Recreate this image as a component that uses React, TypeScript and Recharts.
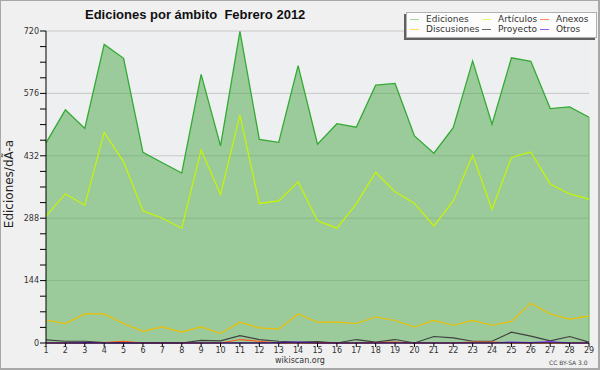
import { ComposedChart, Area, Line, XAxis, YAxis, CartesianGrid, ReferenceLine } from 'recharts';

const days = [1, 2, 3, 4, 5, 6, 7, 8, 9, 10, 11, 12, 13, 14, 15, 16, 17, 18, 19, 20, 21, 22, 23, 24, 25, 26, 27, 28, 29];
const ediciones = [462, 538, 495, 689, 657, 440, 416, 392, 620, 455, 719, 470, 463, 640, 459, 506, 498, 595, 599, 478, 438, 497, 651, 505, 658, 650, 541, 545, 521];
const articulos = [293, 344, 318, 486, 418, 305, 288, 265, 445, 343, 526, 322, 328, 372, 282, 265, 321, 394, 349, 322, 270, 328, 434, 308, 428, 441, 367, 344, 332];
const discusiones = [53, 45, 67, 67, 45, 27, 37, 25, 37, 22, 48, 35, 32, 67, 48, 48, 45, 60, 52, 37, 52, 41, 52, 41, 50, 92, 67, 55, 62];
const proyecto = [7, 4, 4, 1, 0, 0, 1, 0, 6, 5, 17, 8, 4, 2, 3, 0, 8, 2, 8, 0, 15, 12, 4, 4, 25, 16, 5, 15, 2];
const anexos = [0, 0, 0, 1, 4, 0, 0, 0, 0, 0, 8, 4, 0, 0, 1, 0, 0, 1, 2, 0, 0, 0, 2, 2, 0, 0, 0, 0, 0];
const otros = [0, 0, 1, 0, 0, 0, 0, 0, 0, 0, 0, 0, 1, 2, 0, 0, 0, 0, 0, 0, 0, 0, 0, 0, 2, 1, 3, 0, 0];

const yTicks = [0, 36, 72, 108, 144, 180, 216, 252, 288, 324, 360, 396, 432, 468, 504, 540, 576, 612, 648, 684, 720];
const yLabels = [0, 144, 288, 432, 576, 720];

const legendNames = ['Ediciones', 'Artículos', 'Anexos', 'Discusiones', 'Proyecto', 'Otros'];
const legendColors = ['#99dd99', '#ddff66', '#ff8855', '#ffdd55', '#666666', '#9955ee'];

const data = days.map((d, i) => ({
  day: d,
  ediciones: ediciones[i],
  articulos: articulos[i],
  discusiones: discusiones[i],
  proyecto: proyecto[i],
  anexos: anexos[i],
  otros: otros[i],
}));

const font = 'DejaVu Sans, sans-serif';

function LegendBox() {
  const colX = [0, 72, 130];
  return (
    <div
      style={{
        position: 'absolute',
        left: 405,
        top: 11,
        width: 189,
        height: 24,
        background: '#fcfcfc',
        border: '1px solid #b0b0b0',
        boxShadow: '-2px 2px 0 #606060',
        fontFamily: font,
        fontSize: 9,
        color: '#333',
      }}
    >
      {legendNames.map((name, i) => {
        const col = i % 3;
        const row = Math.floor(i / 3);
        return (
          <div
            key={name}
            style={{
              position: 'absolute',
              left: colX[col] + 3,
              top: row * 10 + 1,
              height: 11,
              lineHeight: '11px',
              display: 'flex',
              alignItems: 'center',
              whiteSpace: 'nowrap',
            }}
          >
            <span style={{ display: 'inline-block', width: 9, height: 1, background: legendColors[i], marginRight: 7 }} />
            {name}
          </div>
        );
      })}
    </div>
  );
}

export default function App() {
  return (
    <div
      style={{
        position: 'absolute',
        left: 0,
        top: 0,
        width: 600,
        height: 370,
        background: '#f0f0f0',
        boxSizing: 'border-box',
        border: '1px solid #a8a8a8',
        borderRightWidth: 2,
        borderBottomWidth: 2,
        overflow: 'hidden',
      }}
    >
      <div style={{ position: 'absolute', left: -1, top: -1 }}>
        <ComposedChart width={600} height={370} data={data} margin={{ top: 31, right: 11, bottom: 0, left: 0 }}>
          <CartesianGrid fill="#eeeff1" stroke="#c8c8c8" vertical={false} horizontalValues={yLabels} />
          <XAxis
            type="number"
            dataKey="day"
            domain={[1, 29]}
            ticks={days}
            interval={0}
            height={27}
            tickSize={4}
            tickMargin={0}
            axisLine={{ stroke: '#000' }}
            tickLine={{ stroke: '#000' }}
            tick={{ fontSize: 8, fill: '#333', fontFamily: font }}
          />
          <YAxis
            domain={[0, 720]}
            ticks={yTicks}
            interval={0}
            width={46}
            tickSize={6}
            tickMargin={1}
            tickFormatter={(v: number) => (v % 144 === 0 ? String(v) : '')}
            axisLine={{ stroke: '#000' }}
            tickLine={{ stroke: '#000' }}
            tick={{ fontSize: 8, fill: '#333', fontFamily: font }}
          />
          <Area
            type="linear"
            dataKey="ediciones"
            stroke="#33aa33"
            strokeWidth={1.3}
            fill="#48a745"
            fillOpacity={0.5}
            isAnimationActive={false}
            dot={false}
            activeDot={false}
          />
          <ReferenceLine
            segment={[
              { x: days[days.length - 1], y: 0 },
              { x: days[days.length - 1], y: ediciones[ediciones.length - 1] },
            ]}
            stroke="#5ab45a"
            strokeWidth={1}
          />
          <Line type="linear" dataKey="articulos" stroke="#c8f500" strokeWidth={1.2} dot={false} isAnimationActive={false} />
          <Line type="linear" dataKey="discusiones" stroke="#f0c000" strokeWidth={1.2} dot={false} isAnimationActive={false} />
          <Line type="linear" dataKey="proyecto" stroke="#404040" strokeWidth={1.2} dot={false} isAnimationActive={false} />
          <Line type="linear" dataKey="anexos" stroke="#ff5a1e" strokeWidth={1.2} dot={false} isAnimationActive={false} />
          <Line type="linear" dataKey="otros" stroke="#7f2fff" strokeWidth={1.2} dot={false} isAnimationActive={false} />
        </ComposedChart>
      </div>

      <div
        style={{
          position: 'absolute',
          left: 84,
          top: 7,
          lineHeight: '13px',
          fontFamily: 'Liberation Sans, sans-serif',
          fontWeight: 'bold',
          fontSize: 13,
          color: '#111',
          whiteSpace: 'pre',
        }}
      >
        {'Ediciones por ámbito  Febrero 2012'}
      </div>

      <div
        style={{
          position: 'absolute',
          left: 8,
          top: 183,
          transform: 'translate(-50%, -50%) rotate(-90deg)',
          fontFamily: font,
          fontSize: 12,
          color: '#222',
          whiteSpace: 'nowrap',
        }}
      >
        Ediciones/dÃ-a
      </div>

      <LegendBox />

      <div
        style={{
          position: 'absolute',
          left: 0,
          width: 598,
          top: 355,
          textAlign: 'center',
          fontFamily: font,
          fontSize: 8,
          lineHeight: '10px',
          color: '#333',
        }}
      >
        wikiscan.org
      </div>
      <div
        style={{
          position: 'absolute',
          left: 548,
          top: 358,
          fontFamily: font,
          fontSize: 6,
          lineHeight: '8px',
          color: '#444',
          whiteSpace: 'nowrap',
        }}
      >
        CC BY-SA 3.0
      </div>
    </div>
  );
}
